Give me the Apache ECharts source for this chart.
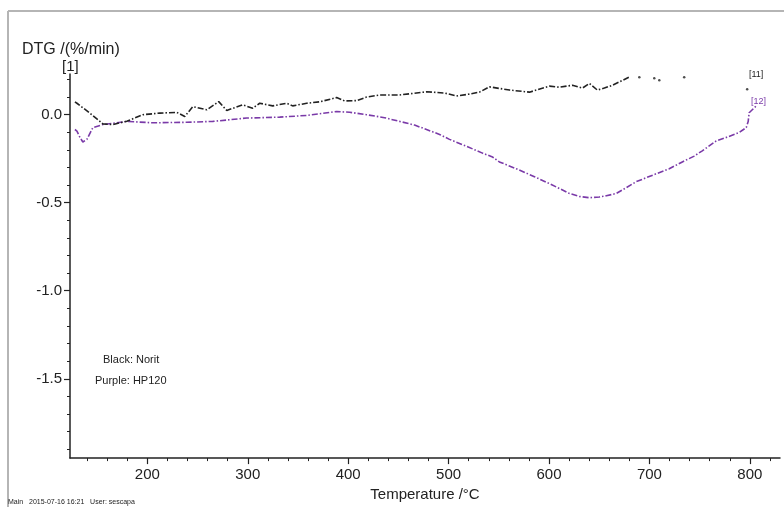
<!DOCTYPE html>
<html><head><meta charset="utf-8">
<script src="https://cdn.jsdelivr.net/npm/echarts@6/dist/echarts.min.js"></script>
<style>html,body{margin:0;padding:0;background:#fff}#c{width:784px;height:507px}</style>
</head><body><div id="c"></div>
<script>
// Norit (black) DTG: [temperature °C, %/min]
const noritData = [
[127.9,0.072],[129.9,0.064],[142.8,0.008],[155.7,-0.053],[165.7,-0.057],[179.6,-0.038],[195.5,-0.001],
[212.4,0.008],[229.4,0.012],[237.3,-0.011],[245.3,0.045],[259.2,0.027],[271.1,0.073],[279.1,0.023],
[295,0.055],[304.9,0.036],[311.9,0.064],[324.8,0.049],[338.8,0.064],[344.7,0.049],[358.7,0.064],
[371.6,0.072],[388.5,0.096],[396.5,0.077],[408.4,0.079],[418.3,0.099],[431.3,0.111],[451.2,0.111],
[478,0.129],[495.9,0.122],[507.9,0.105],[520.8,0.116],[530.7,0.127],[540.7,0.157],[560.6,0.139],
[580.5,0.127],[600.4,0.161],[610.3,0.155],[623.3,0.166],[633.2,0.150],[640.2,0.176],[648.1,0.139],
[655.1,0.150],[663,0.166],[670,0.185],[680,0.213]
];
// Norit sparse trailing dots
const noritDots = [[689.9,0.211],[704.8,0.206],[709.8,0.194],[734.6,0.211],[797.3,0.144]];
// HP120 (purple) DTG
const hp120Data = [
[127.9,-0.085],[129.9,-0.094],[132.9,-0.130],[135.8,-0.156],[139.8,-0.141],[145.8,-0.074],[155.7,-0.057],
[179.6,-0.039],[205.5,-0.047],[239.3,-0.044],[265.2,-0.039],[299,-0.020],[331.8,-0.015],[358.7,-0.005],
[388.5,0.017],[401.4,0.013],[418.3,-0.001],[436.2,-0.018],[451.2,-0.039],[466.1,-0.060],[478,-0.085],
[491,-0.113],[500.9,-0.141],[517.8,-0.180],[533.7,-0.219],[543.7,-0.241],[550.6,-0.269],[567.5,-0.308],
[585.5,-0.353],[600.4,-0.392],[620.3,-0.448],[630.2,-0.465],[640.2,-0.472],[650.1,-0.468],[657.1,-0.461],
[667,-0.448],[677,-0.415],[686.9,-0.381],[706.8,-0.336],[719.7,-0.308],[732.7,-0.269],[744.6,-0.236],
[752.6,-0.206],[766.5,-0.150],[776.5,-0.130],[789.4,-0.102],[796.4,-0.074],[798.3,-0.040],[799.3,0.010],[806.3,0.049]
];
const xMajorTicks = [200,300,400,500,600,700,800];
const xMinorTicks = [140,160,180,200,220,240,260,280,300,320,340,360,380,400,420,440,460,480,500,520,540,560,580,600,620,640,660,680,700,720,740,760,780,800,820];
const yMajorTicks = [0,-0.5,-1.0,-1.5];
const yMinorTicks = [0.2,0.1,0,-0.1,-0.2,-0.3,-0.4,-0.5,-0.6,-0.7,-0.8,-0.9,-1.0,-1.1,-1.2,-1.3,-1.4,-1.5,-1.6,-1.7,-1.8,-1.9];

const FONT = '"Liberation Sans", Arial, sans-serif';
const INK = '#222';
const PURPLE = '#7a3aa8';
const X_MIN = 123, X_MAX = 830, Y_MIN = -1.95, Y_MAX = 0.23;

const chart = echarts.init(document.getElementById('c'), null, {renderer:'canvas'});
const baseX = {type:'value', min:X_MIN, max:X_MAX, splitLine:{show:false}};
const baseY = {type:'value', min:Y_MIN, max:Y_MAX, splitLine:{show:false}};
chart.setOption({
  animation:false,
  backgroundColor:'#fff',
  grid:{left:70, right:4, top:74, bottom:44, containLabel:false},
  xAxis:[
    Object.assign({}, baseX, {
      axisLine:{show:true, onZero:false, lineStyle:{color:INK, width:1.5}},
      axisTick:{show:true, inside:false, length:3, customValues:xMinorTicks, lineStyle:{color:INK, width:1}},
      axisLabel:{show:true, customValues:xMajorTicks, margin:9, color:INK, fontSize:15, fontFamily:FONT},
      name:'Temperature /°C', nameLocation:'middle', nameGap:22,
      nameTextStyle:{color:INK, fontSize:15, fontFamily:FONT}
    }),
    Object.assign({}, baseX, {
      position:'bottom',
      axisLine:{show:false, onZero:false},
      axisTick:{show:true, inside:false, length:6, customValues:xMajorTicks, lineStyle:{color:INK, width:1.2}},
      axisLabel:{show:false}
    })
  ],
  yAxis:[
    Object.assign({}, baseY, {
      axisLine:{show:true, onZero:false, lineStyle:{color:INK, width:1.5}},
      axisTick:{show:true, inside:false, length:3, customValues:yMinorTicks, lineStyle:{color:INK, width:1}},
      axisLabel:{show:true, customValues:yMajorTicks, margin:8, color:INK, fontSize:15, fontFamily:FONT,
        formatter:v=>Number(v).toFixed(1)}
    }),
    Object.assign({}, baseY, {
      position:'left',
      axisLine:{show:false, onZero:false},
      axisTick:{show:true, inside:false, length:6, customValues:yMajorTicks, lineStyle:{color:INK, width:1.2}},
      axisLabel:{show:false}
    })
  ],
  series:[
    {type:'line', name:'Norit', data:noritData, xAxisIndex:0, yAxisIndex:0, showSymbol:false,
     lineStyle:{color:INK, width:1.6, type:[6,2,1.5,2]}, z:3},
    {type:'scatter', name:'Norit dots', data:noritDots, xAxisIndex:0, yAxisIndex:0, symbolSize:2.5,
     itemStyle:{color:INK}, z:3},
    {type:'line', name:'HP120', data:hp120Data, xAxisIndex:0, yAxisIndex:0, showSymbol:false,
     lineStyle:{color:PURPLE, width:1.6, type:[6,2,1.5,2]}, z:2}
  ],
  graphic:[
    {type:'line', shape:{x1:8, y1:11, x2:784, y2:11}, style:{stroke:'#b5b5b5', lineWidth:2}},
    {type:'line', shape:{x1:8, y1:11, x2:8, y2:507}, style:{stroke:'#b5b5b5', lineWidth:2}},
    {type:'text', left:22, top:42, style:{text:'DTG /(%/min)', fill:INK, font:'16px '+FONT}},
    {type:'text', left:62, top:59, style:{text:'[1]', fill:INK, font:'15px '+FONT}},
    {type:'text', left:103, top:354, style:{text:'Black: Norit', fill:INK, font:'11px '+FONT}},
    {type:'text', left:95, top:375, style:{text:'Purple: HP120', fill:INK, font:'11px '+FONT}},
    {type:'text', left:749, top:70, style:{text:'[11]', fill:INK, font:'9px '+FONT}},
    {type:'text', left:751, top:97, style:{text:'[12]', fill:PURPLE, font:'9px '+FONT}},
    {type:'text', left:8, top:499, style:{text:'Main   2015-07-16 16:21   User: sescapa', fill:INK, font:'7px '+FONT}}
  ]
});
</script></body></html>
